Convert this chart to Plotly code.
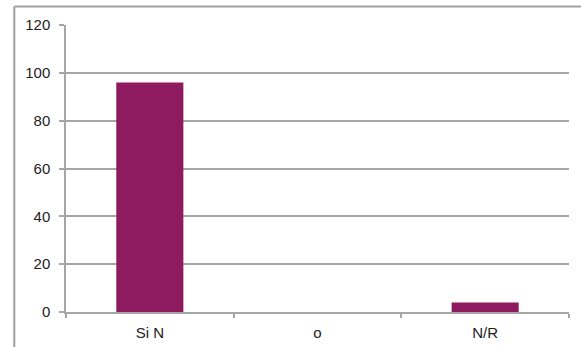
import plotly.graph_objects as go

categories = ["Si N", "o", "N/R"]
values = [96, 0, 4]
y_ticks = [0, 20, 40, 60, 80, 100, 120]

bar_color = "#8E1B5F"
grid_color = "#A6A6A6"
frame_color = "#A0A0A0"

fig = go.Figure(go.Bar(x=categories, y=values, marker=dict(color=bar_color, line=dict(width=0)),
                       hoverinfo="skip"))

L, R, T, B = 66, 12, 25, 35
W, H = 581, 347
pw, ph = W - L - R, H - T - B
fx = (14.3 - L) / pw
fy = 1 + (T - 6.5) / ph

fig.update_layout(
    width=W, height=H,
    margin=dict(l=L, r=R, t=T, b=B, autoexpand=False),
    paper_bgcolor="white", plot_bgcolor="white",
    bargap=0.6,
    showlegend=False,
    font=dict(family="Liberation Sans, Arial, sans-serif", size=15, color="#222"),
    xaxis=dict(
        type="category",
        automargin=False,
        showline=True, linecolor=grid_color, linewidth=1.5,
        ticks="outside", tickson="boundaries", ticklen=4, tickcolor=grid_color, tickwidth=1.5,
        showgrid=False,
        ticklabelstandoff=6,
    ),
    yaxis=dict(
        automargin=False,
        range=[0, 120], tickvals=y_ticks,
        showline=True, linecolor=grid_color, linewidth=1.5,
        ticks="outside", ticklen=5, tickcolor=grid_color, tickwidth=1.5,
        showgrid=True, gridcolor=grid_color, gridwidth=1.5,
        zeroline=False,
        ticklabelstandoff=6,
    ),
    shapes=[
        dict(type="line", xref="paper", yref="paper", x0=fx, x1=fx, y0=-0.3, y1=fy,
             line=dict(color=frame_color, width=2)),
        dict(type="line", xref="paper", yref="paper", x0=fx, x1=1.1, y0=fy, y1=fy,
             line=dict(color=frame_color, width=2)),
    ],
)

fig.write_html("out.html", config={"displayModeBar": False},
               post_script="document.body.style.margin='0';document.body.style.overflow='hidden';")
